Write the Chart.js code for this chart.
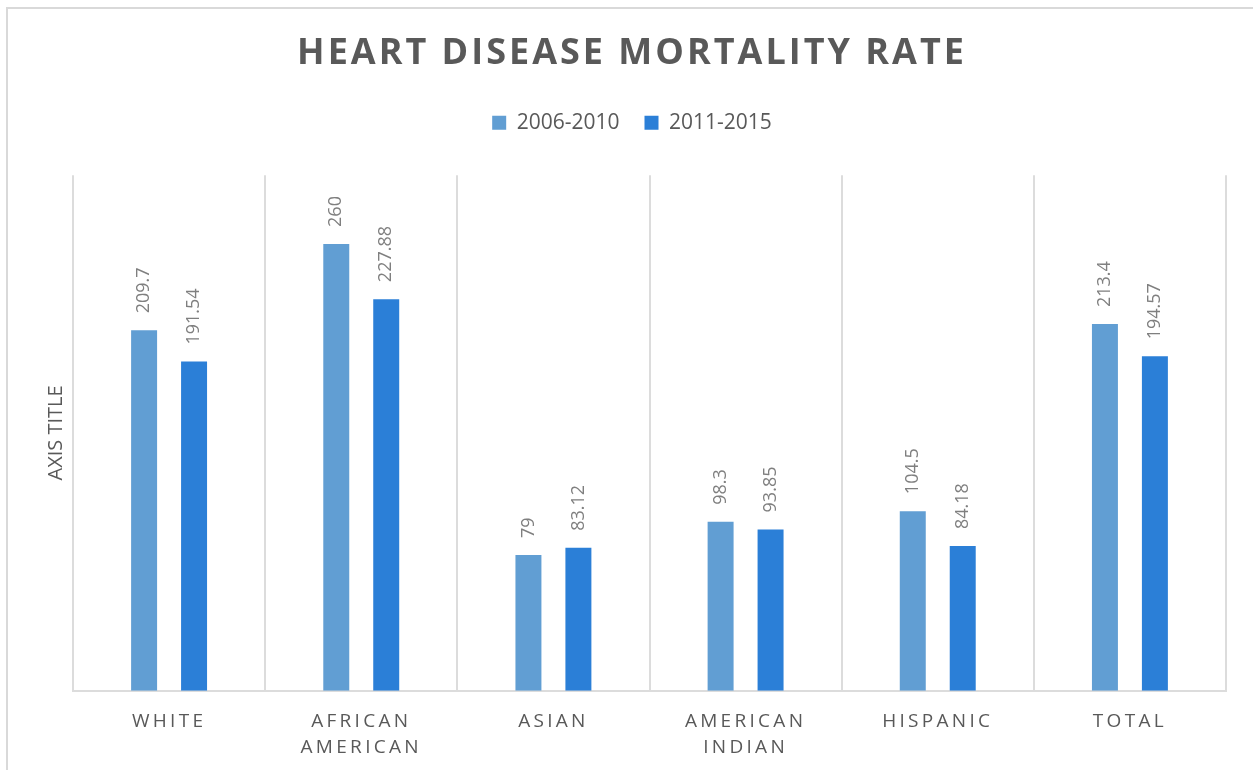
<!DOCTYPE html>
<html>
<head>
<meta charset="utf-8">
<script src="https://cdn.jsdelivr.net/npm/chart.js@4.4.0/dist/chart.umd.min.js"></script>
<style>
  html, body { margin: 0; padding: 0; background: #fff; overflow: hidden; }
  #wrap { position: relative; width: 1253px; height: 770px; }
  #frame { position: absolute; left: 6px; top: 7px; width: 1400px; height: 900px;
           border: 2px solid #d9d9d9; pointer-events: none; }
</style>
</head>
<body>
<div id="wrap">
  <canvas id="chart" width="1253" height="770"></canvas>
  <div id="frame"></div>
</div>
<script>
const categories = [["WHITE"], ["AFRICAN", "AMERICAN"], ["ASIAN"], ["AMERICAN", "INDIAN"], ["HISPANIC"], ["TOTAL"]];
const seriesNames = ["2006-2010", "2011-2015"];
const rate2006 = [209.7, 260, 79, 98.3, 104.5, 213.4];
const rate2011 = [191.54, 227.88, 83.12, 93.85, 84.18, 194.57];
const yMax = 300;

const FONT = "'Open Sans', sans-serif";

// letter spacing for the title and category labels (Excel style),
// plus some room under the legend
const tweaks = {
  id: "tweaks",
  beforeLayout(chart) {
    const lg = chart.legend;
    if (lg && !lg._padded) {
      const fit = lg.fit.bind(lg);
      lg.fit = () => { fit(); lg.height += 32; };
      lg._padded = true;
    }
  },
  afterLayout(chart) {
    const t = chart.titleBlock;
    if (t && !t._spaced) {
      const orig = t.draw.bind(t);
      t.draw = (area) => { chart.ctx.save(); chart.ctx.letterSpacing = "3px"; orig(area); chart.ctx.restore(); };
      t._spaced = true;
    }
    const x = chart.scales.x;
    if (x && !x._spaced) {
      const orig = x.drawLabels.bind(x);
      x.drawLabels = (area) => { chart.ctx.save(); chart.ctx.letterSpacing = "3.3px"; orig(area); chart.ctx.restore(); };
      x._spaced = true;
    }
  }
};

// rotated value labels above each bar
const valueLabels = {
  id: "valueLabels",
  afterDatasetsDraw(chart) {
    const ctx = chart.ctx;
    ctx.save();
    ctx.font = "18px " + FONT;
    ctx.fillStyle = "#7f7f7f";
    ctx.textAlign = "left";
    ctx.textBaseline = "middle";
    chart.data.datasets.forEach((ds, i) => {
      chart.getDatasetMeta(i).data.forEach((bar, j) => {
        ctx.save();
        ctx.translate(bar.x, bar.y - 17);
        ctx.rotate(-Math.PI / 2);
        ctx.fillText(String(ds.data[j]), 0, 0);
        ctx.restore();
      });
    });
    ctx.restore();
  }
};

new Chart(document.getElementById("chart"), {
  type: "bar",
  data: {
    labels: categories,
    datasets: [
      { label: seriesNames[0], data: rate2006, backgroundColor: "#619ED3" },
      { label: seriesNames[1], data: rate2011, backgroundColor: "#2B7FD7" }
    ]
  },
  options: {
    responsive: false,
    animation: false,
    devicePixelRatio: 1,
    layout: { padding: { left: 38, right: 27, top: 0, bottom: -8 } },
    datasets: { bar: { categoryPercentage: 0.52, barPercentage: 0.52 } },
    plugins: {
      title: {
        display: true,
        text: "HEART DISEASE MORTALITY RATE",
        color: "#595959",
        font: { family: FONT, size: 36, weight: "bold" },
        padding: { top: 32, bottom: 12 }
      },
      legend: {
        labels: {
          color: "#595959",
          font: { family: FONT, size: 21 },
          boxWidth: 14,
          boxHeight: 14,
          padding: 25
        }
      },
      tooltip: { enabled: false }
    },
    scales: {
      x: {
        grid: { offset: true, color: "#dcdcdc", lineWidth: 2, drawTicks: false },
        border: { color: "#dcdcdc", width: 2 },
        ticks: {
          color: "#595959",
          font: { family: FONT, size: 19, lineHeight: 1.35 },
          padding: 18,
          autoSkip: false,
          maxRotation: 0,
          minRotation: 0
        }
      },
      y: {
        min: 0,
        max: yMax,
        grid: { display: false, drawTicks: false },
        border: { display: false },
        ticks: { display: false },
        title: {
          display: true,
          text: "AXIS TITLE",
          color: "#595959",
          font: { family: FONT, size: 20 },
          padding: { top: 6, bottom: 5 }
        }
      }
    }
  },
  plugins: [tweaks, valueLabels]
});
</script>
</body>
</html>
